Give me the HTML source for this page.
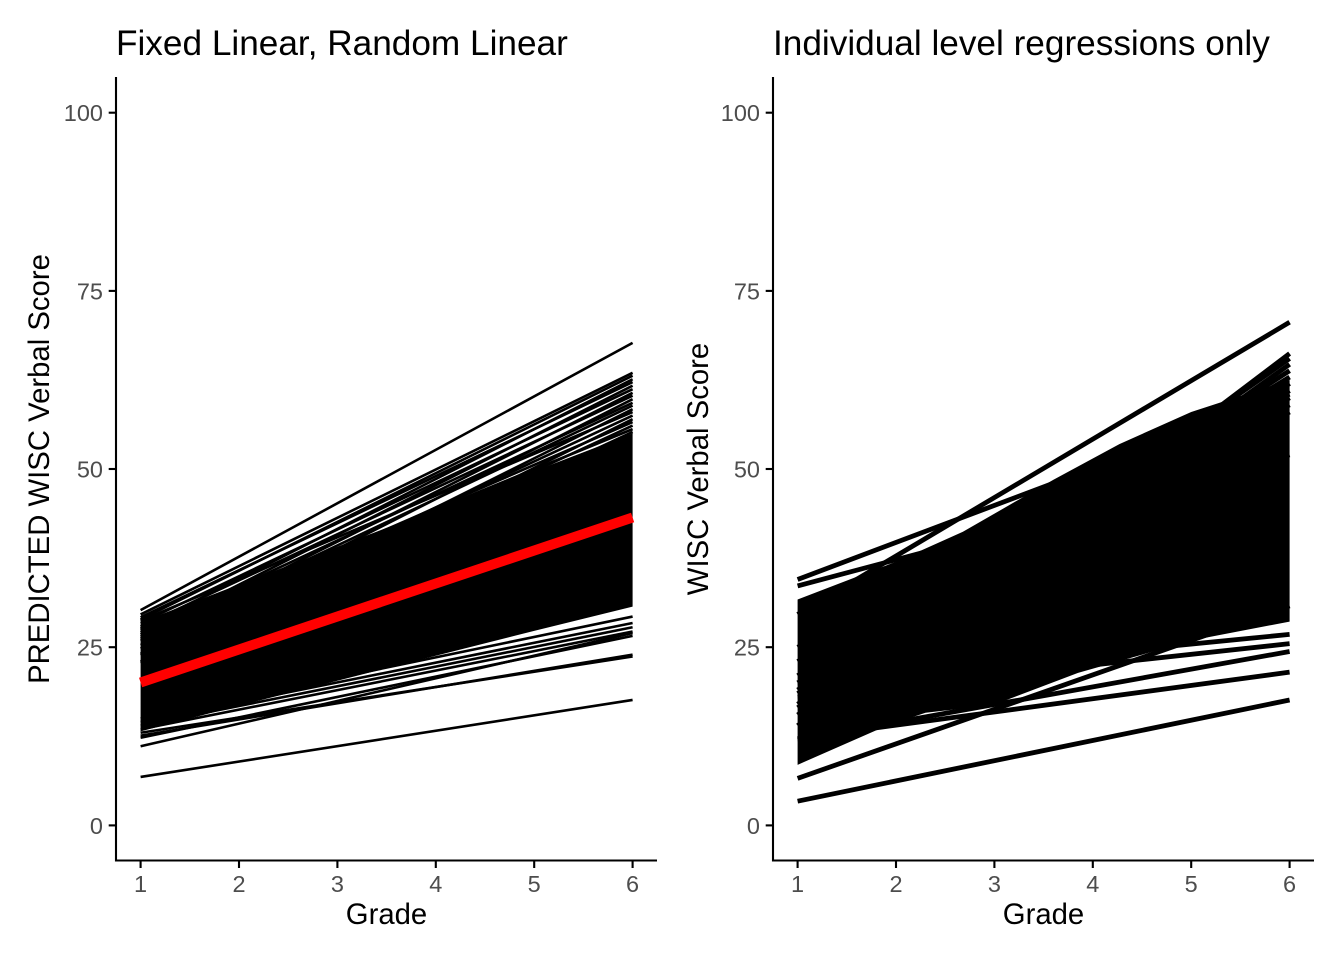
<!DOCTYPE html>
<html>
<head>
<meta charset="utf-8">
<style>
  html, body { margin: 0; padding: 0; background: #ffffff; }
  body { width: 1344px; height: 960px; overflow: hidden; }
  svg { display: block; }
  text { font-family: "Liberation Sans", Arial, sans-serif; }
  .tick { font-size: 23.5px; fill: #4D4D4D; }
  .axt { font-size: 29.3px; fill: #000; }
  .ttl { font-size: 35.2px; fill: #000; }
</style>
</head>
<body>
<svg width="1344" height="960" viewBox="0 0 1344 960" xmlns="http://www.w3.org/2000/svg">
  <rect x="0" y="0" width="1344" height="960" fill="#ffffff"/>

  <!-- ================= LEFT PANEL ================= -->
  <g transform="matrix(98.4 0 0 -7.127 42.2 825.4)">
    <polygon points="1,28.5 6,55 6,30.7 5,27.3 4,23.8 3,20.3 2,16.8 1,13.2" fill="#000"/>
    <g fill="none" stroke="#000" stroke-width="2.6" stroke-linecap="butt">
      <path vector-effect="non-scaling-stroke" d="M1 30.2 L6 67.7"/>
      <path vector-effect="non-scaling-stroke" d="M1 29.6 L6 63.5"/>
      <path vector-effect="non-scaling-stroke" d="M1 28.9 L6 63.1"/>
      <path vector-effect="non-scaling-stroke" d="M1 27.6 L6 62.6"/>
      <path vector-effect="non-scaling-stroke" d="M1 29.2 L6 62.2"/>
      <path vector-effect="non-scaling-stroke" d="M1 26.8 L6 61.7"/>
      <path vector-effect="non-scaling-stroke" d="M1 28.4 L6 61.2"/>
      <path vector-effect="non-scaling-stroke" d="M1 25.9 L6 60.7"/>
      <path vector-effect="non-scaling-stroke" d="M1 27.9 L6 60.3"/>
      <path vector-effect="non-scaling-stroke" d="M1 24.8 L6 59.8"/>
      <path vector-effect="non-scaling-stroke" d="M1 27.1 L6 59.3"/>
      <path vector-effect="non-scaling-stroke" d="M1 26.2 L6 58.9"/>
      <path vector-effect="non-scaling-stroke" d="M1 23.9 L6 58.4"/>
      <path vector-effect="non-scaling-stroke" d="M1 28.7 L6 58.0"/>
      <path vector-effect="non-scaling-stroke" d="M1 25.3 L6 57.5"/>
      <path vector-effect="non-scaling-stroke" d="M1 22.8 L6 57.0"/>
      <path vector-effect="non-scaling-stroke" d="M1 26.5 L6 56.6"/>
      <path vector-effect="non-scaling-stroke" d="M1 24.1 L6 56.1"/>
      <path vector-effect="non-scaling-stroke" d="M1 27.4 L6 55.6"/>
      <path vector-effect="non-scaling-stroke" d="M1 23.0 L6 55.2"/>
      <!-- lower lines -->
      <path vector-effect="non-scaling-stroke" d="M1 15.0 L6 29.3"/>
      <path vector-effect="non-scaling-stroke" d="M1 14.5 L6 28.4"/>
      <path vector-effect="non-scaling-stroke" d="M1 14.0 L6 27.8"/>
      <path vector-effect="non-scaling-stroke" d="M1 13.5 L6 27.2"/>
      <path vector-effect="non-scaling-stroke" d="M1 12.3 L6 26.6"/>
      <path vector-effect="non-scaling-stroke" d="M1 11.1 L6 27.0"/>
      <path vector-effect="non-scaling-stroke" d="M1 13.0 L6 23.7"/>
      <path vector-effect="non-scaling-stroke" d="M1 12.6 L6 23.95"/>
      <path vector-effect="non-scaling-stroke" d="M1 6.8 L6 17.6"/>
    </g>
    <path vector-effect="non-scaling-stroke" d="M1 20.05 L6 43.2" fill="none" stroke="#FF0000" stroke-width="10" stroke-linecap="butt"/>
  </g>

  <!-- left axes -->
  <g stroke="#000" stroke-width="2.1" fill="none">
    <line x1="116" y1="77" x2="116" y2="861.5"/>
    <line x1="115" y1="860.5" x2="657" y2="860.5"/>
    <line x1="108.7" y1="825.4" x2="116" y2="825.4"/>
    <line x1="108.7" y1="647.2" x2="116" y2="647.2"/>
    <line x1="108.7" y1="469.0" x2="116" y2="469.0"/>
    <line x1="108.7" y1="290.9" x2="116" y2="290.9"/>
    <line x1="108.7" y1="112.7" x2="116" y2="112.7"/>
    <line x1="140.6" y1="860.5" x2="140.6" y2="868"/>
    <line x1="239.0" y1="860.5" x2="239.0" y2="868"/>
    <line x1="337.4" y1="860.5" x2="337.4" y2="868"/>
    <line x1="435.8" y1="860.5" x2="435.8" y2="868"/>
    <line x1="534.2" y1="860.5" x2="534.2" y2="868"/>
    <line x1="632.6" y1="860.5" x2="632.6" y2="868"/>
  </g>
  <g text-anchor="end">
    <text class="tick" x="103" y="833.8">0</text>
    <text class="tick" x="103" y="655.6">25</text>
    <text class="tick" x="103" y="477.4">50</text>
    <text class="tick" x="103" y="299.3">75</text>
    <text class="tick" x="103" y="121.1">100</text>
  </g>
  <g text-anchor="middle">
    <text class="tick" x="140.6" y="892">1</text>
    <text class="tick" x="239.0" y="892">2</text>
    <text class="tick" x="337.4" y="892">3</text>
    <text class="tick" x="435.8" y="892">4</text>
    <text class="tick" x="534.2" y="892">5</text>
    <text class="tick" x="632.6" y="892">6</text>
  </g>
  <text class="axt" x="386.5" y="924" text-anchor="middle">Grade</text>
  <text class="axt" transform="translate(49,469) rotate(-90)" text-anchor="middle">PREDICTED WISC Verbal Score</text>
  <text class="ttl" x="116" y="55">Fixed Linear, Random Linear</text>

  <!-- ================= RIGHT PANEL ================= -->
  <g transform="matrix(98.4 0 0 -7.127 699.2 825.4)">
    <polygon points="1,31.7 2.0,37.0 2.68,41.2 3.6,48.5 4.27,53.5 5.0,58.0 6,62.5 6,28.6 5.02,26.0 3.85,21.4 2.99,16.9 2.30,15.8 1.89,13.9 1,8.5" fill="#000"/>
    <g fill="none" stroke="#000" stroke-width="4.8" stroke-linecap="butt">
      <path vector-effect="non-scaling-stroke" d="M1 14 L6 66.2"/>
      <path vector-effect="non-scaling-stroke" d="M1 17 L6 65.5"/>
      <path vector-effect="non-scaling-stroke" d="M1 15.5 L6 64.7"/>
      <path vector-effect="non-scaling-stroke" d="M1 19 L6 63.8"/>
      <path vector-effect="non-scaling-stroke" d="M1 21 L6 62.9"/>
      <path vector-effect="non-scaling-stroke" d="M1 16.5 L6 62.0"/>
      <path vector-effect="non-scaling-stroke" d="M1 23 L6 61.0"/>
      <path vector-effect="non-scaling-stroke" d="M1 18.5 L6 60.0"/>
      <path vector-effect="non-scaling-stroke" d="M1 25 L6 59.0"/>
      <path vector-effect="non-scaling-stroke" d="M1 20 L6 58.0"/>
      <path vector-effect="non-scaling-stroke" d="M1 29.6 L6 70.6"/>
      <path vector-effect="non-scaling-stroke" d="M1 34.5 L6 60.5"/>
      <path vector-effect="non-scaling-stroke" d="M1 33.6 L6 52.0"/>
      <path vector-effect="non-scaling-stroke" d="M1 3.4 L6 17.6"/>
      <path vector-effect="non-scaling-stroke" d="M1 6.6 L6 30.8"/>
      <path vector-effect="non-scaling-stroke" d="M1 12.2 L6 21.5"/>
      <path vector-effect="non-scaling-stroke" d="M1 12.0 L6 24.4"/>
      <path vector-effect="non-scaling-stroke" d="M1 18.0 L6 25.5"/>
      <path vector-effect="non-scaling-stroke" d="M1 20.0 L6 26.8"/>
    </g>
  </g>

  <!-- right axes -->
  <g stroke="#000" stroke-width="2.1" fill="none">
    <line x1="773" y1="77" x2="773" y2="861.5"/>
    <line x1="772" y1="860.5" x2="1314" y2="860.5"/>
    <line x1="765.7" y1="825.4" x2="773" y2="825.4"/>
    <line x1="765.7" y1="647.2" x2="773" y2="647.2"/>
    <line x1="765.7" y1="469.0" x2="773" y2="469.0"/>
    <line x1="765.7" y1="290.9" x2="773" y2="290.9"/>
    <line x1="765.7" y1="112.7" x2="773" y2="112.7"/>
    <line x1="797.6" y1="860.5" x2="797.6" y2="868"/>
    <line x1="896.0" y1="860.5" x2="896.0" y2="868"/>
    <line x1="994.4" y1="860.5" x2="994.4" y2="868"/>
    <line x1="1092.8" y1="860.5" x2="1092.8" y2="868"/>
    <line x1="1191.2" y1="860.5" x2="1191.2" y2="868"/>
    <line x1="1289.6" y1="860.5" x2="1289.6" y2="868"/>
  </g>
  <g text-anchor="end">
    <text class="tick" x="760" y="833.8">0</text>
    <text class="tick" x="760" y="655.6">25</text>
    <text class="tick" x="760" y="477.4">50</text>
    <text class="tick" x="760" y="299.3">75</text>
    <text class="tick" x="760" y="121.1">100</text>
  </g>
  <g text-anchor="middle">
    <text class="tick" x="797.6" y="892">1</text>
    <text class="tick" x="896.0" y="892">2</text>
    <text class="tick" x="994.4" y="892">3</text>
    <text class="tick" x="1092.8" y="892">4</text>
    <text class="tick" x="1191.2" y="892">5</text>
    <text class="tick" x="1289.6" y="892">6</text>
  </g>
  <text class="axt" x="1043.5" y="924" text-anchor="middle">Grade</text>
  <text class="axt" transform="translate(708,469) rotate(-90)" text-anchor="middle">WISC Verbal Score</text>
  <text class="ttl" x="773" y="55">Individual level regressions only</text>
</svg>
</body>
</html>
